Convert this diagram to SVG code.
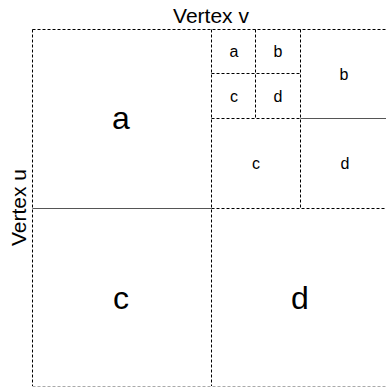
<svg xmlns="http://www.w3.org/2000/svg" width="386" height="387" viewBox="0 0 386 387">
<style>
.g{fill:none;stroke:#000;stroke-width:1;stroke-dasharray:3 2}
.s{fill:none;stroke:#555;stroke-width:1}
.lt{fill:none;stroke:#aaa;stroke-width:1;stroke-dasharray:3 2}
.t{font-family:"Liberation Sans",Arial,sans-serif;fill:#000;text-anchor:middle}
.big{font-size:32px}
.sm{font-size:16px}
.lbl{font-size:21px}
</style>
<rect width="386" height="387" fill="#fff"/>
<g id="grid">
<path class="g" d="M32.5 29.5H386"/>
<path class="g" d="M32.5 29.5V386"/>
<path class="g" d="M211.5 29.5V386"/>
<path class="g" d="M211.5 208.5H386"/>
<path class="s" d="M32.5 208.5H211.5"/>
<path class="g" d="M300.5 29.5V208.5"/>
<path class="g" d="M211.5 118.5H300.5"/>
<path class="s" d="M300.5 118.5H386"/>
<path class="g" d="M255.5 29.5V118.5"/>
<path class="g" d="M211.5 73.5H300.5"/>
<path class="lt" d="M32.5 386.5H386"/>
</g>
<g id="label-v"><text class="t lbl" x="211" y="23">Vertex v</text></g>
<g id="label-u"><text class="t lbl" transform="translate(26,207.5) rotate(-90)">Vertex u</text></g>
<g id="A"><text class="t big" x="121" y="129">a</text></g>
<g id="C"><text class="t big" x="121" y="309">c</text></g>
<g id="D"><text class="t big" x="300" y="309">d</text></g>
<g id="B-b"><text class="t sm" x="344" y="80">b</text></g>
<g id="B-c"><text class="t sm" x="256" y="169">c</text></g>
<g id="B-d"><text class="t sm" x="345" y="169">d</text></g>
<g id="B-a-a"><text class="t sm" x="234" y="57">a</text></g>
<g id="B-a-b"><text class="t sm" x="278" y="57">b</text></g>
<g id="B-a-c"><text class="t sm" x="234" y="102">c</text></g>
<g id="B-a-d"><text class="t sm" x="278" y="102">d</text></g>
</svg>
